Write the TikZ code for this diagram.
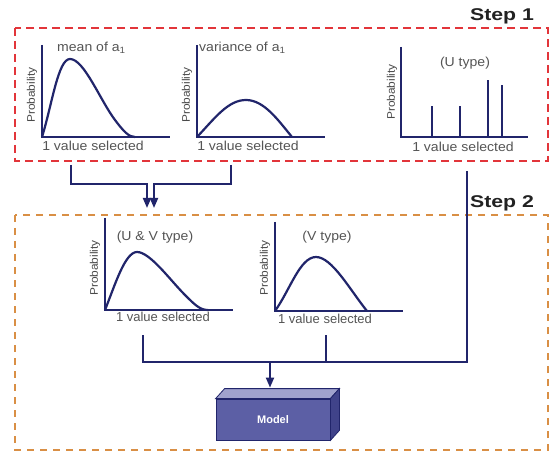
\documentclass[tikz,border=0pt]{standalone}
\usepackage{fontspec}
\setmainfont{Liberation Sans}
\usetikzlibrary{arrows.meta}
\definecolor{navy}{HTML}{21256B}
\definecolor{redd}{HTML}{E2353A}
\definecolor{orng}{HTML}{D98F45}
\definecolor{labgray}{HTML}{555555}
\definecolor{probgray}{HTML}{4A4A4A}
\definecolor{stepblack}{HTML}{222222}
\definecolor{mfront}{HTML}{5C5FA5}
\definecolor{mtop}{HTML}{A0A2CD}
\definecolor{mside}{HTML}{40438A}
\newcommand{\wide}[1]{\scalebox{1.08}[1]{#1}}
\begin{document}
\begin{tikzpicture}[x=1pt,y=-1pt,
  axis/.style={draw=navy,line width=1.9pt},
  curve/.style={draw=navy,line width=2.2pt,line join=round},
  bar/.style={draw=navy,line width=1.9pt},
  conn/.style={draw=navy,line width=1.9pt},
  arr/.style={-{Triangle[width=8pt,length=10pt]}},
  lab/.style={text=labgray,inner sep=0pt,font=\fontsize{13}{15}\selectfont},
  xlab/.style={text=labgray,inner sep=0pt,font=\fontsize{13}{15}\selectfont},
  prob/.style={text=probgray,inner sep=0pt,rotate=90,font=\fontsize{11}{13}\selectfont},
  steplab/.style={text=stepblack,inner sep=0pt,font=\fontsize{17}{20}\selectfont\bfseries},
  stepone/.style={draw=redd,line width=1.6pt,dash pattern=on 8pt off 5pt},
  steptwo/.style={draw=orng,line width=1.6pt,dash pattern=on 7pt off 6pt},
  modelbox/.style={draw=navy,line width=0.8pt,fill=mfront,text=white,minimum width=114pt,minimum height=41pt,inner sep=0pt,font=\fontsize{11}{13}\selectfont\bfseries}
]
\useasboundingbox (0,0) rectangle (551,454);
\fill[white] (0,0) rectangle (551,454);

% Step boxes
\draw[stepone] (15,28) rectangle (548,161);
\draw[steptwo] (15,215) rectangle (548,450);
\node[steplab] (step1) at (502,16) {\scalebox{1.25}[1]{Step 1}};
\node[steplab] (step2) at (502,203) {\scalebox{1.25}[1]{Step 2}};

% Graph 1: mean
\draw[axis] (42,45) -- (42,137) -- (170,137);
\draw[curve] (42,137) .. controls (52,105) and (58,59) .. (70,59)
  .. controls (84,59) and (100,100) .. (115,120)
  .. controls (124,132) and (129,137) .. (135,137);
\node[lab,anchor=west] (t1) at (57,48) {\wide{mean of a\textsubscript{1}}};
\node[xlab] (x1) at (93,146) {\wide{1 value selected}};
\node[prob] (p1) at (32,95) {\wide{Probability}};

% Graph 2: variance
\draw[axis] (197,45) -- (197,137) -- (325,137);
\draw[curve] (197,137) .. controls (215,118) and (228,100) .. (246,100)
  .. controls (264,100) and (278,120) .. (292,137);
\node[lab,anchor=west] (t2) at (199,48) {\wide{variance of a\textsubscript{1}}};
\node[xlab] (x2) at (248,146) {\wide{1 value selected}};
\node[prob] (p2) at (187,95) {\wide{Probability}};

% Graph 3: U type
\draw[axis] (401,47) -- (401,137) -- (528,137);
\draw[bar] (432,137) -- (432,106);
\draw[bar] (460,137) -- (460,106);
\draw[bar] (488,137) -- (488,80);
\draw[bar] (502,137) -- (502,85);
\node[lab] (t3) at (465,63) {\wide{(U type)}};
\node[xlab] (x3) at (463,147) {\wide{1 value selected}};
\node[prob] (p3) at (392,92) {\wide{Probability}};

% Graph 4: U & V type
\draw[axis] (105,218) -- (105,310) -- (233,310);
\draw[curve] (105,310) .. controls (115,285) and (125,252) .. (137,252)
  .. controls (150,252) and (170,280) .. (185,295)
  .. controls (195,305) and (200,310) .. (208,310);
\node[lab] (t4) at (155,237) {\wide{(U \& V type)}};
\node[xlab] (x4) at (163,317) {1 value selected};
\node[prob] (p4) at (95,268) {\wide{Probability}};

% Graph 5: V type
\draw[axis] (275,222) -- (275,311) -- (403,311);
\draw[curve] (275,311) .. controls (290,290) and (300,257) .. (316,257)
  .. controls (332,257) and (350,290) .. (367,311);
\node[lab] (t5) at (327,237) {\wide{(V type)}};
\node[xlab] (x5) at (325,319) {1 value selected};
\node[prob] (p5) at (265,268) {\wide{Probability}};

% Model box
\node[modelbox] (model) at (273,419.5) {Model};
\filldraw[fill=mtop,draw=navy,line width=0.8pt] (model.north west) -- ++(9,-10) -- ([shift={(9,-10)}]model.north east) -- (model.north east) -- cycle;
\filldraw[fill=mside,draw=navy,line width=0.8pt] (model.north east) -- ++(9,-10) -- ([shift={(9,-10)}]model.south east) -- (model.south east) -- cycle;
\coordinate (modeltop) at ([shift={(-3,-11)}]model.north);

% Connectors
\coordinate (g1b) at (71,165);
\coordinate (g2b) at (231,165);
\coordinate (in1) at (147,208);
\coordinate (in2) at (154,208);
\draw[conn,arr] (g1b) -- ++(0,19) -| (in1);
\draw[conn,arr] (g2b) -- ++(0,19) -| (in2);

\coordinate (g4b) at (143,335);
\coordinate (g5b) at (326,335);
\coordinate (g3b) at (467,171);
\coordinate (jn) at (270,362);
\draw[conn] (g4b) -- ++(0,27) -| (g3b);
\draw[conn] (g5b) -- ++(0,27);
\draw[conn,arr] (jn) -- (modeltop);
\end{tikzpicture}
\end{document}
